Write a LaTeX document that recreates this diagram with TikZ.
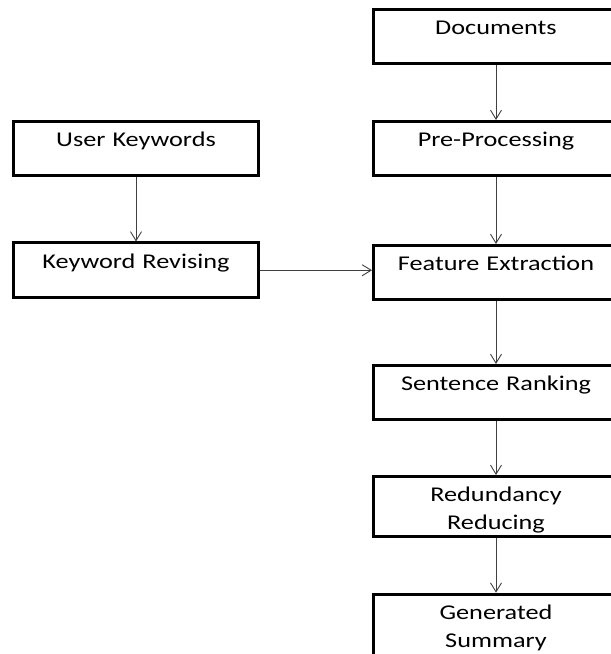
\documentclass[tikz,border=0pt]{standalone}
\usepackage{fontspec}
\setmainfont[FakeStretch=1.25]{Carlito}
\usetikzlibrary{arrows.meta}
\tikzset{
  stepbox/.style={draw, line width=3pt, anchor=north, text width=240pt, align=center,
    inner xsep=2.5pt, inner ysep=0pt, text height=25.5pt, text depth=29pt,
    font=\fontsize{21}{27.5}\selectfont},
  arr/.style={draw=black!75, line width=0.9pt, -{Straight Barb[length=9pt,width=11pt]}}
}
\begin{document}
\begin{tikzpicture}[x=1pt,y=1pt]
\clip (0,0) rectangle (611,654);
% 左列
\node[stepbox] (uk) at (136,534) {User Keywords};
\node[stepbox] (kr) at (136,412.5) {Keyword Revising};
% 右列
\node[stepbox] (doc) at (496,646) {Documents};
\node[stepbox] (pre) at (496,534) {Pre-Processing};
\node[stepbox] (fe) at (496,410) {Feature Extraction};
\node[stepbox] (sr) at (496,290) {Sentence Ranking};
\node[stepbox, text depth=35pt] (rr) at (496,179) {Redundancy\\Reducing};
\node[stepbox, text depth=70pt] (gs) at (496,61.3) {Generated\\Summary};
% 箭头
\draw[arr] (uk) -- (kr);
\draw[arr] (doc) -- (pre);
\draw[arr] (pre) -- (fe);
\draw[arr] (kr.east) -- (kr.east -| fe.west);
\draw[arr] (fe) -- (sr);
\draw[arr] (sr) -- (rr);
\draw[arr] (rr) -- (gs);
\end{tikzpicture}
\end{document}
